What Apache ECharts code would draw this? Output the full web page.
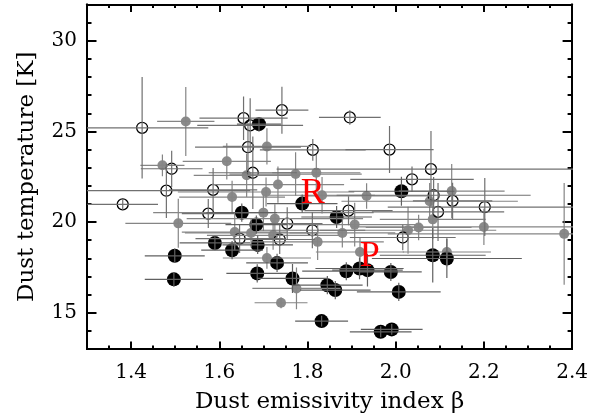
<!DOCTYPE html>
<html><head><meta charset="utf-8">
<script src="https://cdn.jsdelivr.net/npm/echarts@6/dist/echarts.min.js"></script>
<style>html,body{margin:0;padding:0;background:#fff}#c{width:591px;height:420px}</style>
</head><body><div id="c"></div>
<script>
// ---- tick values ----
const xMajorTicks = [1.4, 1.6, 1.8, 2.0, 2.2, 2.4];
const xMinorTicks = [1.3, 1.35, 1.4, 1.45, 1.5, 1.55, 1.6, 1.65, 1.7, 1.75, 1.8, 1.85, 1.9, 1.95, 2.0, 2.05, 2.1, 2.15, 2.2, 2.25, 2.3, 2.35, 2.4];
const yMajorTicks = [15, 20, 25, 30];
const yMinorTicks = [13, 14, 15, 16, 17, 18, 19, 20, 21, 22, 23, 24, 25, 26, 27, 28, 29, 30, 31, 32];

// ---- data: [beta, T, beta error, T error] ----
const openPoints = [
  [1.425, 25.20, 0.15, 2.8], [1.655, 25.73, 0.10, 1.2], [1.670, 25.33, 0.12, 1.5],
  [1.665, 24.13, 0.12, 1.3], [1.492, 22.94, 0.07, 1.0], [1.676, 22.72, 0.10, 2.0],
  [1.480, 21.73, 0.19, 1.5], [1.586, 21.78, 0.10, 1.2], [1.381, 20.98, 0.08, 0.3],
  [1.575, 20.47, 0.06, 0.8], [1.742, 26.17, 0.06, 1.3], [1.896, 25.77, 0.07, 0.4],
  [1.812, 23.98, 0.12, 0.6], [1.986, 24.00, 0.10, 1.3], [2.037, 22.36, 0.14, 0.7],
  [1.893, 20.63, 0.10, 0.8], [1.754, 19.92, 0.08, 0.9], [1.811, 19.55, 0.12, 1.0],
  [2.080, 22.92, 0.35, 2.1], [2.086, 21.48, 0.22, 1.0], [2.129, 21.17, 0.09, 1.0],
  [2.096, 20.56, 0.15, 1.6], [2.202, 20.83, 0.22, 1.6], [1.646, 19.09, 0.10, 0.8],
  [1.737, 19.04, 0.08, 0.8], [2.016, 19.15, 0.12, 0.7]
];
const grayPoints = [
  [1.524, 25.55, 0.065, 1.9], [1.471, 23.13, 0.05, 0.6], [1.617, 23.35, 0.10, 1.0],
  [1.662, 22.58, 0.12, 1.2], [1.629, 21.38, 0.12, 0.9], [1.507, 19.93, 0.12, 1.35],
  [1.635, 19.45, 0.12, 1.0], [1.708, 24.17, 0.10, 1.0], [1.773, 22.65, 0.15, 1.2],
  [1.820, 22.72, 0.10, 1.0], [1.733, 22.07, 0.15, 1.0], [1.706, 21.66, 0.20, 0.8],
  [1.833, 21.48, 0.12, 1.0], [1.934, 21.44, 0.15, 0.7], [1.700, 20.52, 0.25, 1.0],
  [1.726, 20.19, 0.20, 0.8], [1.907, 19.86, 0.15, 1.2], [2.028, 19.55, 0.20, 1.3],
  [2.127, 21.71, 0.12, 1.5], [2.077, 21.15, 0.20, 1.0], [2.084, 20.15, 0.12, 1.1],
  [2.052, 19.70, 0.12, 0.7], [2.200, 19.73, 0.30, 1.0], [2.382, 19.35, 0.40, 2.8],
  [1.672, 19.40, 0.15, 0.8], [1.740, 15.55, 0.06, 0.3], [1.708, 18.02, 0.10, 0.6],
  [1.775, 16.34, 0.10, 1.15], [1.879, 19.40, 0.12, 0.8], [1.823, 18.91, 0.15, 1.0],
  [1.919, 18.35, 0.10, 0.8], [1.722, 19.27, 0.15, 0.8], [2.116, 18.35, 0.10, 0.8]
];
const blackPoints = [
  [1.690, 25.40, 0.05, 0.4], [2.013, 21.70, 0.12, 0.8], [1.788, 21.02, 0.08, 0.5],
  [1.866, 20.28, 0.08, 0.6], [1.651, 20.52, 0.08, 0.5], [1.684, 19.86, 0.07, 0.5],
  [1.499, 18.14, 0.068, 0.4], [1.497, 16.84, 0.066, 0.4], [1.590, 18.85, 0.08, 0.4],
  [1.629, 18.45, 0.07, 0.5], [1.687, 18.74, 0.08, 0.5], [1.686, 17.17, 0.07, 0.5],
  [1.731, 17.75, 0.07, 0.5], [1.766, 16.89, 0.08, 0.8], [1.845, 16.52, 0.08, 0.5],
  [1.863, 16.25, 0.08, 0.5], [1.888, 17.29, 0.10, 0.5], [1.918, 17.44, 0.10, 0.6],
  [1.936, 17.35, 0.08, 0.9], [1.989, 17.25, 0.07, 0.5], [2.007, 16.15, 0.095, 0.5],
  [1.832, 14.54, 0.06, 0.3], [1.966, 13.95, 0.07, 0.3], [1.991, 14.08, 0.07, 0.3],
  [2.084, 18.17, 0.12, 1.5], [2.116, 17.99, 0.17, 1.07]
];
// red markers: [beta, T at letter centre, letter]
const letterMarks = [[1.812, 21.6, 'R'], [1.941, 18.1, 'P']];

const FONT = 'DejaVu Serif';

function xAxis(pos, ticks, len, withLabels) {
  return {
    type: 'value', min: 1.3, max: 2.4, position: pos,
    axisLine: { show: true, onZero: false, lineStyle: { color: '#000', width: 2 } },
    axisTick: { show: true, inside: true, length: len, customValues: ticks, lineStyle: { color: '#000', width: 2 } },
    axisLabel: { show: withLabels, customValues: ticks, margin: 14, color: '#000', fontFamily: FONT, fontSize: 20,
      formatter: v => Number(v).toFixed(1) },
    splitLine: { show: false }
  };
}
function yAxis(pos, ticks, len, withLabels) {
  return {
    type: 'value', min: 13, max: 32, position: pos,
    axisLine: { show: true, onZero: false, lineStyle: { color: '#000', width: 2 } },
    axisTick: { show: true, inside: true, length: len, customValues: ticks, lineStyle: { color: '#000', width: 2 } },
    axisLabel: { show: withLabels, customValues: ticks, margin: 10, color: '#000', fontFamily: FONT, fontSize: 20,
      formatter: v => String(Math.round(v)) },
    splitLine: { show: false }
  };
}

const xAxes = [
  Object.assign(xAxis('bottom', xMajorTicks, 7.5, true), {
    name: 'Dust emissivity index β', nameLocation: 'middle', nameGap: 42,
    nameTextStyle: { color: '#000', fontFamily: FONT, fontSize: 23 } }),
  xAxis('bottom', xMinorTicks, 3.5, false),
  xAxis('top', xMajorTicks, 7.5, false),
  xAxis('top', xMinorTicks, 3.5, false)
];
const yAxes = [
  Object.assign(yAxis('left', yMajorTicks, 9.5, true), {
    name: 'Dust temperature [K]', nameLocation: 'middle', nameGap: 48,
    nameTextStyle: { color: '#000', fontFamily: FONT, fontSize: 23 } }),
  yAxis('left', yMinorTicks, 4.5, false),
  yAxis('right', yMajorTicks, 9.5, false),
  yAxis('right', yMinorTicks, 4.5, false)
];

function errorSeries(points, color, z) {
  return {
    type: 'custom', xAxisIndex: 0, yAxisIndex: 0, clip: true, z: z, silent: true,
    data: points,
    renderItem: function (params, api) {
      const x = api.value(0), y = api.value(1), ex = api.value(2), ey = api.value(3);
      const l = api.coord([x - ex, y]), r = api.coord([x + ex, y]);
      const t = api.coord([x, y + ey]), b = api.coord([x, y - ey]);
      const st = { stroke: color, lineWidth: 1.2 };
      return { type: 'group', children: [
        { type: 'line', shape: { x1: l[0], y1: l[1], x2: r[0], y2: r[1] }, style: st },
        { type: 'line', shape: { x1: t[0], y1: t[1], x2: b[0], y2: b[1] }, style: st }
      ]};
    }
  };
}

const option = {
  animation: false,
  backgroundColor: '#fff',
  grid: { left: 87, right: 17, top: 4.5, bottom: 71, containLabel: false },
  xAxis: xAxes,
  yAxis: yAxes,
  series: [
    { type: 'scatter', data: grayPoints.map(p => [p[0], p[1]]), symbol: 'circle', symbolSize: 10,
      itemStyle: { color: '#8a8a8a', opacity: 1 }, z: 2, silent: true },
    { type: 'scatter', data: blackPoints.map(p => [p[0], p[1]]), symbol: 'circle', symbolSize: 14,
      itemStyle: { color: '#000', opacity: 1 }, z: 3, silent: true },
    { type: 'scatter', data: openPoints.map(p => [p[0], p[1]]), symbol: 'circle', symbolSize: 11,
      itemStyle: { color: 'rgba(0,0,0,0)', borderColor: '#000', borderWidth: 1.3, opacity: 1 }, z: 4, silent: true },
    errorSeries(grayPoints, '#858585', 5),
    errorSeries(openPoints, '#707070', 5),
    errorSeries(blackPoints, '#606060', 5),
    {
      type: 'custom', xAxisIndex: 0, yAxisIndex: 0, z: 10, silent: true,
      data: letterMarks,
      renderItem: function (params, api) {
        const p = api.coord([api.value(0), api.value(1)]);
        return { type: 'text', x: p[0], y: p[1],
          style: { text: letterMarks[params.dataIndex][2], fill: '#ff0000',
            fontFamily: 'Liberation Serif', fontSize: 36,
            align: 'center', verticalAlign: 'middle' } };
      }
    }
  ]
};
const chart = echarts.init(document.getElementById('c'), null, { renderer: 'canvas' });
chart.setOption(option);
</script></body></html>
